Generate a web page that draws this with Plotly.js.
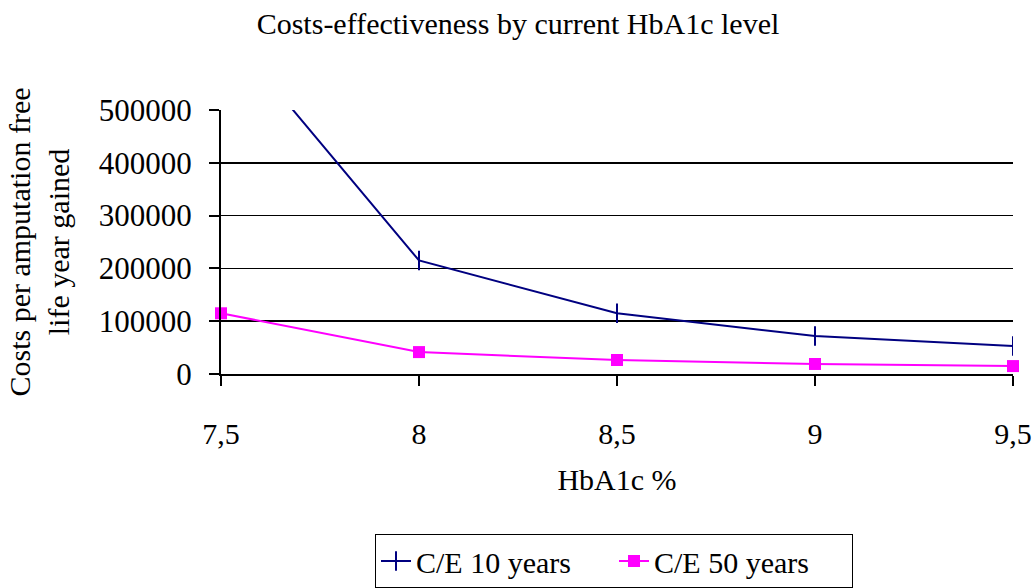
<!DOCTYPE html>
<html>
<head>
<meta charset="utf-8">
<script src="https://cdn.plot.ly/plotly-3.0.1.min.js"></script>
<style>html,body{margin:0;padding:0;background:#fff;}#chart{width:1036px;height:588px;}</style>
</head>
<body>
<div id="chart"></div>
<script>
// Data
const hba1c = [7.5, 8, 8.5, 9, 9.5];
const tickLabels = ["7,5", "8", "8,5", "9", "9,5"];
const ce10years = [663000, 215000, 115000, 72000, 53000];
const ce50years = [115000, 41500, 26500, 19000, 15000];
const yTicks = [0, 100000, 200000, 300000, 400000, 500000];

const FONT = "Liberation Serif, Times New Roman, serif";

const traces = [
  {
    x: hba1c, y: ce10years, name: "C/E 10 years", type: "scatter", mode: "lines+markers",
    line: {color: "#000080", width: 2},
    marker: {symbol: "line-ns", size: 14, line: {color: "#000080", width: 2}, color: "#000080"},
    cliponaxis: true
  },
  {
    x: hba1c, y: ce50years, name: "C/E 50 years", type: "scatter", mode: "lines+markers",
    line: {color: "#FF00FF", width: 2},
    marker: {symbol: "square", size: 12, color: "#FF00FF"},
    cliponaxis: false
  }
];

const layout = {
  width: 1036, height: 588,
  margin: {l: 221, r: 23, t: 110, b: 214},
  paper_bgcolor: "#fff", plot_bgcolor: "#fff",
  font: {family: FONT, size: 30, color: "#000"},
  title: {text: "Costs-effectiveness by current HbA1c level", font: {family: FONT, size: 30, color: "#000"},
          x: 0.5, xref: "container", xanchor: "center", y: 1 - 23/588, yref: "container", yanchor: "middle"},
  showlegend: true,
  legend: {orientation: "h", xref: "container", yref: "container",
           x: 614/1036, xanchor: "center", y: 1 - 534/588, yanchor: "top",
           bordercolor: "#000", borderwidth: 1, font: {family: FONT, size: 30, color: "#000"},
           entrywidth: 193, entrywidthmode: "pixels", tracegroupgap: 0},
  xaxis: {
    range: [7.5, 9.5], tickvals: hba1c, ticktext: tickLabels,
    showgrid: false, zeroline: false, showline: true, linecolor: "#000", linewidth: 2,
    ticks: "outside", ticklen: 10, tickwidth: 2, tickcolor: "#000", ticklabelstandoff: 22,
    tickfont: {family: FONT, size: 30, color: "#000"},
    title: {text: "HbA1c %", font: {family: FONT, size: 30, color: "#000"}, standoff: 20}
  },
  yaxis: {
    range: [0, 500000], tickvals: yTicks, ticktext: yTicks.map(String),
    showgrid: true, gridcolor: "#000", gridwidth: 1.5, zeroline: false,
    showline: true, linecolor: "#000", linewidth: 2,
    ticks: "outside", ticklen: 10, tickwidth: 2, tickcolor: "#000", ticklabelstandoff: 11,
    tickfont: {family: FONT, size: 31, color: "#000"},
    title: {text: "Costs per amputation free<br>life year gained", font: {family: FONT, size: 30, color: "#000"}, standoff: 20}
  }
};

Plotly.newPlot("chart", traces, layout, {displayModeBar: false, staticPlot: true});
</script>
</body>
</html>
